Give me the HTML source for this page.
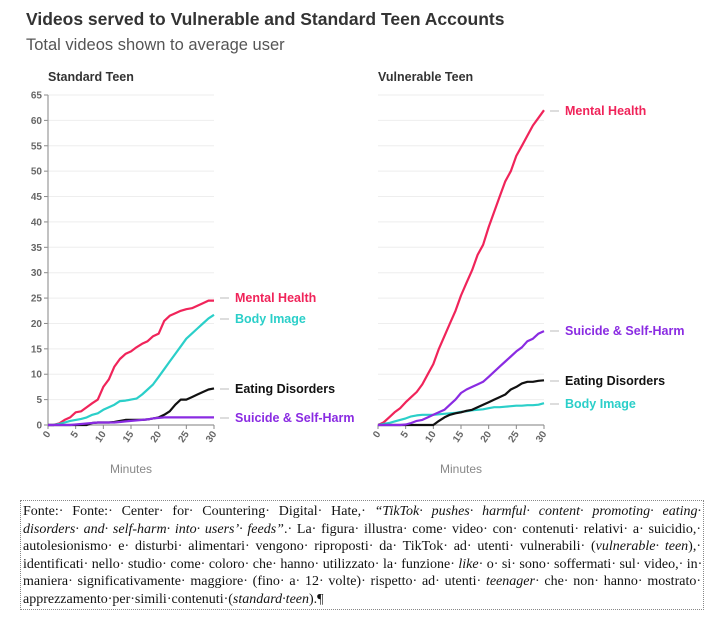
<!DOCTYPE html>
<html><head><meta charset="utf-8">
<style>
body{margin:0;background:#fff;width:720px;height:641px;overflow:hidden;font-family:"Liberation Sans",sans-serif}
#cap{position:absolute;left:20px;top:500px;width:684px;height:110px;border:1px dotted #888;box-sizing:border-box;padding:2px 2px 0 2px;font-family:"Liberation Serif",serif;font-size:14px;line-height:17.6px;color:#111}
#cap div{text-align:justify;text-align-last:justify;white-space:nowrap}
#cap div.last{text-align-last:left}
</style></head><body>
<svg id="chart" width="720" height="495" style="position:absolute;left:0;top:0" font-family="Liberation Sans, sans-serif">
<text x="26" y="25" font-size="17.5" font-weight="bold" fill="#333">Videos served to Vulnerable and Standard Teen Accounts</text>
<text x="26" y="50" font-size="16.5" fill="#555">Total videos shown to average user</text>
<g id="plots"></g>
</svg>
<div id="cap">
<div>Fonte:· Fonte:· Center· for· Countering· Digital· Hate,· <i>“TikTok· pushes· harmful· content· promoting· eating·</i></div>
<div><i>disorders· and· self-harm· into· users’· feeds”</i>.· La· figura· illustra· come· video· con· contenuti· relativi· a· suicidio,·</div>
<div>autolesionismo· e· disturbi· alimentari· vengono· riproposti· da· TikTok· ad· utenti· vulnerabili· (<i>vulnerable· teen</i>),·</div>
<div>identificati· nello· studio· come· coloro· che· hanno· utilizzato· la· funzione· <i>like</i>· o· si· sono· soffermati· sul· video,· in·</div>
<div>maniera· significativamente· maggiore· (fino· a· 12· volte)· rispetto· ad· utenti· <i>teenager</i>· che· non· hanno· mostrato·</div>
<div class="last">apprezzamento·per·simili·contenuti·(<i>standard·teen</i>).¶</div>
</div>
<script>
const minutes=[0,1,2,3,4,5,6,7,8,9,10,11,12,13,14,15,16,17,18,19,20,21,22,23,24,25,26,27,28,29,30];
const yTicks=[0,5,10,15,20,25,30,35,40,45,50,55,60,65];
const xTicks=[0,5,10,15,20,25,30];
const stdMental=[0,0,0.3,1,1.5,2.5,2.7,3.5,4.3,5,7.5,9,11.5,13,14,14.5,15.3,16,16.5,17.5,18,20.5,21.5,22,22.5,22.8,23,23.5,24,24.5,24.5];
const stdBody=[0,0,0.2,0.5,0.8,1,1.2,1.5,2,2.3,3,3.5,4,4.7,4.8,5,5.2,6,7,8,9.5,11,12.5,14,15.5,17,18,19,20,21,21.7];
const stdEating=[0,0,0,0,0,0,0,0,0.4,0.5,0.5,0.5,0.6,0.8,1,1,1,1,1.1,1.3,1.5,2,2.7,4,5,5,5.5,6,6.5,7,7.2];
const stdSuicide=[0,0,0,0,0,0.1,0.2,0.3,0.4,0.5,0.5,0.5,0.5,0.6,0.7,0.8,0.9,1,1.1,1.3,1.4,1.5,1.5,1.5,1.5,1.5,1.5,1.5,1.5,1.5,1.5];
const vulMental=[0,0.5,1.5,2.5,3.3,4.5,5.5,6.5,8,10,12,15,17.5,20,22.5,25.5,28,30.5,33.5,35.5,39,42,45,48,50,53,55,57,59,60.5,62];
const vulSuicide=[0,0,0,0,0,0.1,0.4,0.8,1,1.5,2,2.5,3,4,5,6.3,7,7.5,8,8.5,9.5,10.5,11.5,12.5,13.5,14.5,15.3,16.5,17,18,18.5];
const vulEating=[0,0,0,0,0,0,0,0,0,0,0,0.8,1.5,2,2.3,2.5,2.8,3,3.5,4,4.5,5,5.5,6,7,7.5,8.2,8.5,8.5,8.7,8.8];
const vulBody=[0,0.2,0.4,0.7,1,1.3,1.7,1.9,2,2,2,2.1,2.2,2.3,2.4,2.6,2.7,2.9,3,3.1,3.3,3.5,3.5,3.6,3.7,3.8,3.8,3.9,3.9,4,4.3];
const seriesNames=["Mental Health","Body Image","Eating Disorders","Suicide & Self-Harm"];
const colors={"Mental Health":"#f0245a","Body Image":"#2bcfc9","Eating Disorders":"#111","Suicide & Self-Harm":"#8a2be2"};
const NS="http://www.w3.org/2000/svg";
const g=document.getElementById('plots');
function el(t,a,p){const e=document.createElementNS(NS,t);for(const k in a)e.setAttribute(k,a[k]);(p||g).appendChild(e);return e;}
const y=v=>425-v*(330/65);
function panel(x0,title,showY,data,labelY,key){
  const x=m=>x0+m*(166/30);
  const gp=el('g',{});
  
  
  const t=el('text',{x:x0,y:81,'font-size':12.5,'font-weight':'bold',fill:'#333'},gp);t.textContent=title;
  
  
  yTicks.forEach(v=>{
    const l=el('line',{x1:x0,x2:x0+166,y1:y(v),y2:y(v),stroke:'#eee','stroke-width':1},gp);
    
    
    if(showY){
      el('line',{x1:x0-4,x2:x0,y1:y(v),y2:y(v),stroke:'#888'},gp);
      const tl=el('text',{x:x0-6,y:y(v)+3.5,'font-size':10,'font-weight':'bold',fill:'#666','text-anchor':'end'},gp);tl.textContent=v;
      
      
    }
  });
  if(showY){const a=el('line',{x1:x0,x2:x0,y1:y(65),y2:y(0),stroke:'#999','stroke-width':1.2},gp);}
  const xa=el('line',{x1:x0,x2:x0+166,y1:425,y2:425,stroke:'#999','stroke-width':1.2},gp);
  
  
  xTicks.forEach(v=>{
    el('line',{x1:x(v),x2:x(v),y1:425,y2:429,stroke:'#888'},gp);
    const tl=el('text',{x:x(v)+3,y:434,'font-size':10,'font-weight':'bold',fill:'#666','text-anchor':'end',transform:`rotate(-55 ${x(v)+3} 434)`},gp);tl.textContent=v;
    
    
  });
  const xt=el('text',{x:x0+83,y:473,'font-size':12,fill:'#888','text-anchor':'middle'},gp);xt.textContent='Minutes';
  
  
  data.forEach((d,i)=>{
    const name=seriesNames[i];
    const pts=d.map((v,j)=>x(minutes[j]).toFixed(1)+','+y(v).toFixed(1)).join(' ');
    const pl=el('polyline',{points:pts,fill:'none',stroke:colors[name],'stroke-width':2.2,'stroke-linejoin':'round'},gp);
    
    
    const ly=labelY[i];
    el('line',{x1:x(30)+6,x2:x(30)+15,y1:ly-4,y2:ly-4,stroke:'#bbb'},gp);
    const lt=el('text',{x:x(30)+21,y:ly,'font-size':12.5,'font-weight':'bold',fill:colors[name]},gp);lt.textContent=name;
    
    
  });
}
panel(48,'Standard Teen',true,[stdMental,stdBody,stdEating,stdSuicide],[302,323,393,422],'standard');
panel(378,'Vulnerable Teen',false,[vulMental,vulBody,vulEating,vulSuicide],[115,408,385,335],'vulnerable');
</script>
</body></html>
